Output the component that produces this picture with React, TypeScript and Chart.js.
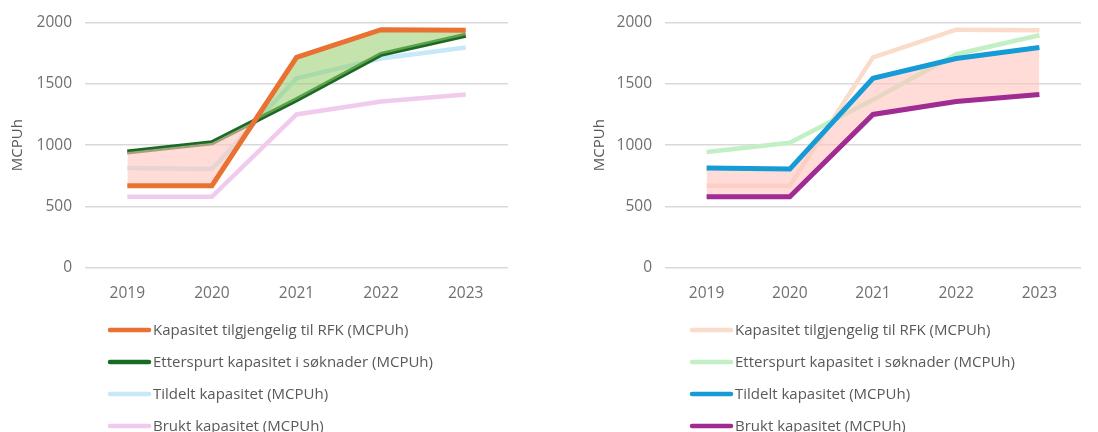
import React, { useEffect, useRef } from "react";
import { Chart, registerables } from "chart.js";

Chart.register(...registerables);

const years = ["2019", "2020", "2021", "2022", "2023"];
const kapasitet = [670, 670, 1715, 1940, 1935];
const etterspurt = [945, 1020, 1370, 1740, 1895];
const tildelt = [815, 805, 1545, 1705, 1795];
const brukt = [580, 580, 1250, 1355, 1412];

const seriesNames = [
  "Kapasitet tilgjengelig til RFK (MCPUh)",
  "Etterspurt kapasitet i søknader (MCPUh)",
  "Tildelt kapasitet (MCPUh)",
  "Brukt kapasitet (MCPUh)",
];
const yTicks = [0, 500, 1000, 1500, 2000];

const FONT = "'Open Sans', 'Liberation Sans', sans-serif";
const TICK_COLOR = "#6f6f6f";
const TEXT_COLOR = "#595959";

const leftColors = ["#E97132", "#196B24", "#C6E8F8", "#F1CBEE"];
const rightColors = ["#FBDCCB", "#C3EFC5", "#159BD6", "#A02B93"];
const leftWidths = [5, 5, 4.5, 4.5];
const rightWidths = [4.5, 4.5, 5, 5];
const pinkFill = "rgba(255, 196, 190, 0.6)";
const greenFill = "rgba(150, 205, 105, 0.55)";

const legendPlugin = {
  id: "verticalLegend",
  afterDraw(chart: any, _args: any, opts: any) {
    const ctx = chart.ctx;
    const ds = chart.data.datasets;
    ctx.save();
    ctx.font = `15px ${FONT}`;
    ctx.textBaseline = "middle";
    ctx.textAlign = "left";
    for (let i = 0; i < ds.length; i++) {
      const y = opts.top + i * opts.gap;
      ctx.strokeStyle = ds[i].borderColor;
      ctx.lineWidth = 4.5;
      ctx.lineCap = "round";
      ctx.beginPath();
      ctx.moveTo(opts.x, y);
      ctx.lineTo(opts.x + 39, y);
      ctx.stroke();
      ctx.fillStyle = TEXT_COLOR;
      ctx.fillText(ds[i].label, opts.x + 43, y + 1);
    }
    ctx.restore();
  },
};

function makeConfig(side: "left" | "right") {
  const colors = side === "left" ? leftColors : rightColors;
  const widths = side === "left" ? leftWidths : rightWidths;
  const values = [kapasitet, etterspurt, tildelt, brukt];
  const datasets = values.map((v, i) => {
    const d: any = {
      label: seriesNames[i],
      data: v,
      borderColor: colors[i],
      backgroundColor: colors[i],
      borderWidth: widths[i],
      pointRadius: 0,
      tension: 0,
      fill: false,
      order: 5,
    };
    return d;
  });
  if (side === "left") {
    datasets[0].fill = { target: 1, above: greenFill, below: pinkFill };
    datasets[0].order = 0;
    datasets[1].order = 1;
    datasets[2].order = 3;
    datasets[3].order = 4;
  } else {
    datasets[2].fill = { target: 3, above: pinkFill, below: pinkFill };
    datasets[0].order = 6;
    datasets[1].order = 5;
    datasets[2].order = 1;
    datasets[3].order = 0;
  }
  const yWidth = side === "left" ? 85 : 116;
  const padRight = side === "left" ? 41 : 17;
  const titlePad = side === "left" ? 9 : 42;
  return {
    type: "line" as const,
    data: { labels: years, datasets },
    plugins: [legendPlugin],
    options: {
      animation: false,
      responsive: false,
      maintainAspectRatio: false,
      layout: { padding: { top: 21, right: padRight, bottom: 124, left: 0 } },
      plugins: {
        legend: { display: false },
        tooltip: { enabled: false },
        verticalLegend: side === "left"
          ? { x: 110, top: 330, gap: 32 }
          : { x: 143, top: 330, gap: 32 },
      },
      scales: {
        x: {
          offset: true,
          grid: { display: false },
          border: { display: false },
          ticks: { color: TICK_COLOR, font: { family: FONT, size: 15.5 }, padding: 8 },
          afterFit: (s: any) => { s.height = 40; },
        },
        y: {
          min: 0,
          max: 2000,
          afterBuildTicks: (s: any) => { s.ticks = yTicks.map((v) => ({ value: v })); },
          grid: { color: "#D9D9D9", lineWidth: 1.5, drawTicks: false },
          border: { display: false },
          ticks: {
            color: TICK_COLOR,
            font: { family: FONT, size: 15.5 },
            padding: 13,
            callback: (v: any) => String(v),
          },
          title: {
            display: true,
            text: "MCPUh",
            color: TEXT_COLOR,
            font: { family: FONT, size: 15 },
            padding: { top: titlePad, bottom: 0 },
          },
          afterFit: (s: any) => { s.width = yWidth; },
        },
      },
    },
  };
}

function LineChart({ side }: { side: "left" | "right" }) {
  const ref = useRef<HTMLCanvasElement>(null);
  useEffect(() => {
    if (!ref.current) return;
    const chart = new Chart(ref.current, makeConfig(side) as any);
    return () => chart.destroy();
  }, [side]);
  return <canvas ref={ref} width={549} height={432} style={{ display: "block", width: 549, height: 432 }} />;
}

export default function App() {
  return (
    <div style={{ position: "fixed", left: 0, top: 0, width: 1098, height: 432, background: "#fff", display: "flex", overflow: "hidden" }}>
      <LineChart side="left" />
      <LineChart side="right" />
    </div>
  );
}
